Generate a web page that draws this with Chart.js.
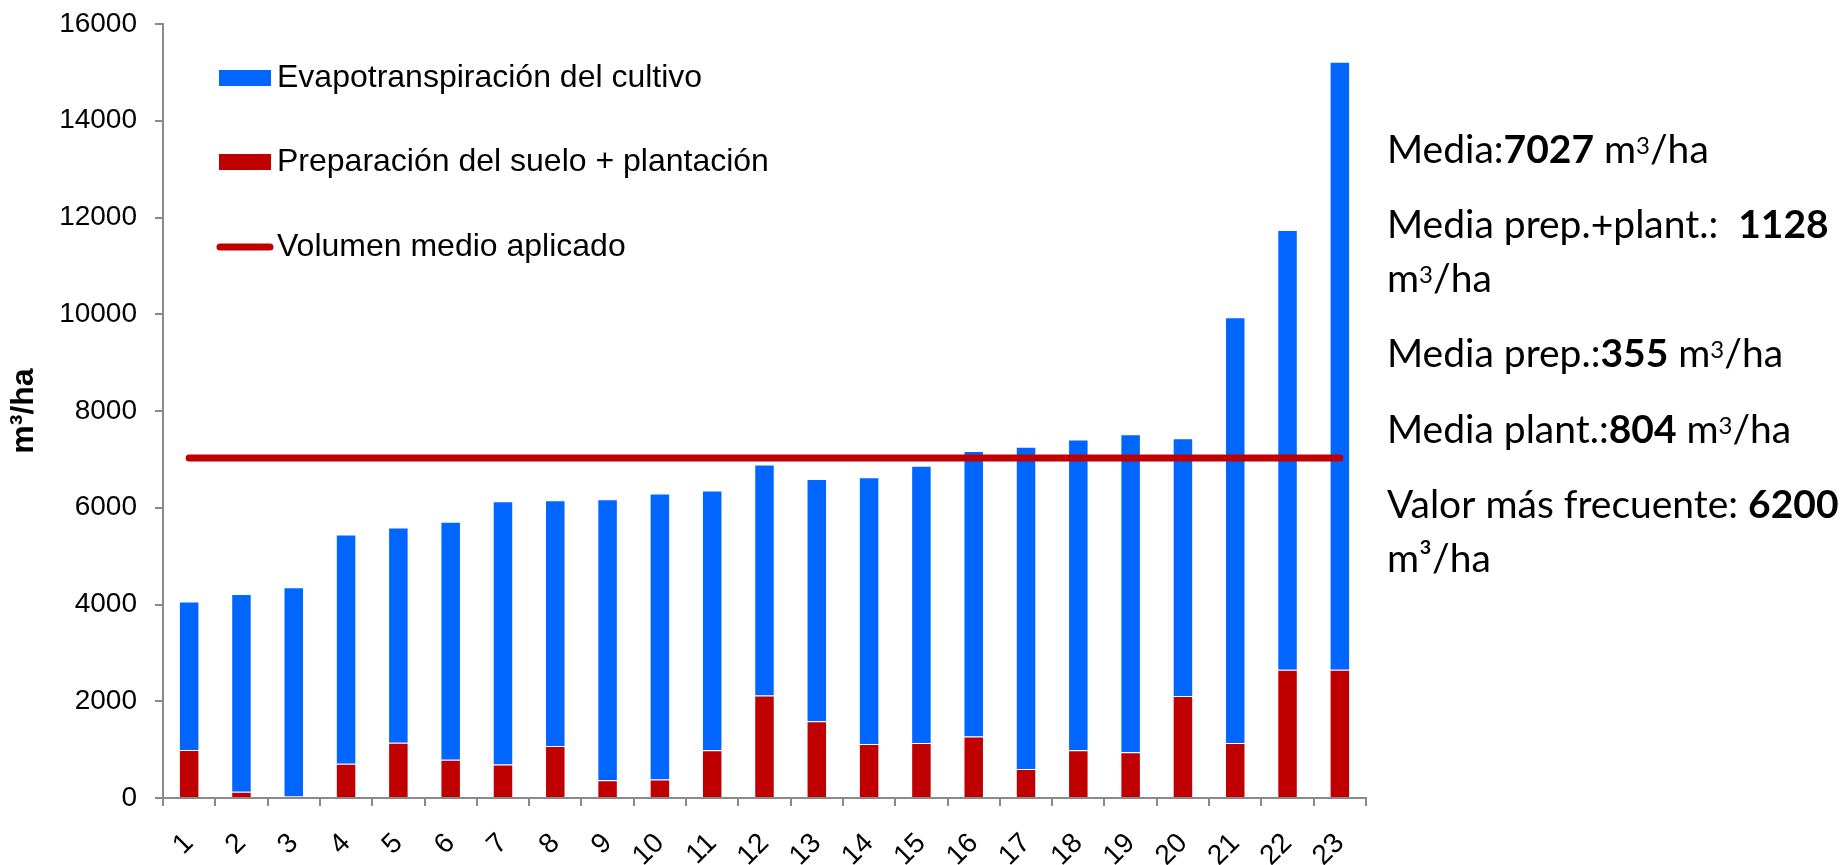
<!DOCTYPE html>
<html lang="es">
<head>
<meta charset="utf-8">
<title>Volumen de riego aplicado por parcela</title>
<script src="https://cdn.jsdelivr.net/npm/chart.js@4/dist/chart.umd.min.js"></script>
<style>
  html, body { margin: 0; padding: 0; background: #ffffff; }
  #wrap { position: relative; width: 1843px; height: 865px; overflow: hidden; }
  canvas { display: block; }
</style>
</head>
<body>
<div id="wrap">
  <canvas id="grafico" width="1843" height="865"></canvas>
</div>
<script>
// Parcelas ordenadas por volumen total aplicado (m³/ha)
const parcelas = ['1','2','3','4','5','6','7','8','9','10','11','12',
                  '13','14','15','16','17','18','19','20','21','22','23'];

// Riego de preparación del suelo + plantación (m³/ha)
const preparacionPlantacion = [990, 130, 35, 710, 1140, 790, 690, 1075, 365, 385, 985, 2120,
                               1585, 1115, 1135, 1270, 600, 985, 945, 2110, 1135, 2650, 2650];

// Evapotranspiración del cultivo (m³/ha)
const evapotranspiracion = [3070, 4085, 4320, 4735, 4450, 4920, 5445, 5080, 5810, 5910, 5370, 4775,
                            5010, 5515, 5735, 5905, 6660, 6425, 6575, 5325, 8805, 9090, 12570];

// Valores resumen (m³/ha)
const mediaTotal = 7027;
const mediaPrepPlant = 1128;
const mediaPrep = 355;
const mediaPlant = 804;
const valorFrecuente = 6200;

// Eje de valores
const yMin = 0;
const yMax = 16000;
const yPaso = 2000;

const FUENTE = '"Liberation Sans", Arial, sans-serif';
const FUENTE_NOTAS = 'Lato, "Open Sans", sans-serif';
const GRIS_EJE = '#8a8a8a';
const AZUL = '#0066FF';
const ROJO = '#C00000';

// Leyenda vertical dentro del área de trazado
const leyenda = {
  id: 'leyenda',
  afterDraw(chart) {
    const ctx = chart.ctx;
    const ds = chart.data.datasets;
    const filas = [
      { d: ds[1], y: 78, tipo: 'caja' },
      { d: ds[0], y: 162, tipo: 'caja' },
      { d: ds[2], y: 247, tipo: 'linea' }
    ];
    ctx.save();
    ctx.font = '32px ' + FUENTE;
    ctx.textBaseline = 'middle';
    ctx.textAlign = 'left';
    for (const f of filas) {
      if (f.tipo === 'caja') {
        ctx.fillStyle = f.d.backgroundColor;
        ctx.fillRect(219, f.y - 8, 52, 16);
      } else {
        ctx.strokeStyle = f.d.borderColor;
        ctx.lineWidth = 7;
        ctx.lineCap = 'round';
        ctx.beginPath();
        ctx.moveTo(220, f.y);
        ctx.lineTo(270, f.y);
        ctx.stroke();
      }
      ctx.fillStyle = '#000';
      ctx.fillText(f.d.label, 277, f.y);
    }
    ctx.restore();
  }
};

// Bloque de notas con los valores medios, a la derecha del gráfico
const notas = {
  id: 'notas',
  afterDraw(chart) {
    const ctx = chart.ctx;
    const T = 39;
    const estilos = {
      n: { font: T + 'px ' + FUENTE_NOTAS, dy: 0 },
      b: { font: 'bold ' + T + 'px ' + FUENTE_NOTAS, dy: 0 },
      s: { font: Math.round(T * 0.62) + 'px ' + FUENTE_NOTAS, dy: -9 }
    };
    const lineas = [
      { y: 163, partes: [['Media:', 'n'], [String(mediaTotal), 'b'], [' m', 'n'], ['3', 's'], ['/ha', 'n']] },
      { y: 238, partes: [['Media prep.+plant.:  ', 'n'], [String(mediaPrepPlant), 'b']] },
      { y: 292, partes: [['m', 'n'], ['3', 's'], ['/ha', 'n']] },
      { y: 367, partes: [['Media prep.:', 'n'], [String(mediaPrep), 'b'], [' m', 'n'], ['3', 's'], ['/ha', 'n']] },
      { y: 443, partes: [['Media plant.:', 'n'], [String(mediaPlant), 'b'], [' m', 'n'], ['3', 's'], ['/ha', 'n']] },
      { y: 518, partes: [['Valor más frecuente: ', 'n'], [String(valorFrecuente), 'b']] },
      { y: 572, partes: [['m³/ha', 'n']] }
    ];
    ctx.save();
    ctx.fillStyle = '#000';
    ctx.textBaseline = 'alphabetic';
    ctx.textAlign = 'left';
    for (const l of lineas) {
      let x = 1387;
      for (const [txt, e] of l.partes) {
        ctx.font = estilos[e].font;
        ctx.fillText(txt, x, l.y + estilos[e].dy);
        x += ctx.measureText(txt).width;
      }
    }
    ctx.restore();
  }
};

new Chart(document.getElementById('grafico'), {
  type: 'bar',
  data: {
    labels: parcelas,
    datasets: [
      {
        label: 'Preparación del suelo + plantación',
        data: preparacionPlantacion,
        backgroundColor: ROJO,
        borderColor: 'rgba(255,255,255,0.4)',
        borderWidth: 1,
        stack: 'total',
        order: 1
      },
      {
        label: 'Evapotranspiración del cultivo',
        data: evapotranspiracion,
        backgroundColor: AZUL,
        borderColor: 'rgba(255,255,255,0.4)',
        borderWidth: 1,
        stack: 'total',
        order: 2
      },
      {
        type: 'line',
        label: 'Volumen medio aplicado',
        data: parcelas.map(() => mediaTotal),
        borderColor: ROJO,
        backgroundColor: ROJO,
        borderWidth: 7,
        borderCapStyle: 'round',
        pointRadius: 0,
        fill: false,
        stack: 'media',
        order: 0
      }
    ]
  },
  options: {
    responsive: false,
    animation: false,
    devicePixelRatio: 1,
    layout: { padding: { top: 24, right: 477, left: 0, bottom: 0 } },
    datasets: { bar: { categoryPercentage: 1, barPercentage: 0.392 } },
    plugins: {
      legend: { display: false },
      tooltip: { enabled: false },
      title: { display: false }
    },
    scales: {
      x: {
        stacked: true,
        grid: { display: true, drawOnChartArea: false, drawTicks: true, tickLength: 8,
                color: GRIS_EJE, lineWidth: 2, offset: true },
        border: { display: true, color: GRIS_EJE, width: 2 },
        ticks: { font: { family: FUENTE, size: 28 }, color: '#000',
                 maxRotation: 45, minRotation: 45, autoSkip: false, padding: 21 },
        afterFit(s) { s.height = 67; s.paddingLeft = 0; s.paddingRight = 0; }
      },
      y: {
        stacked: true,
        min: yMin,
        max: yMax,
        grid: { display: true, drawOnChartArea: false, drawTicks: true, tickLength: 8,
                color: GRIS_EJE, lineWidth: 2 },
        border: { display: true, color: GRIS_EJE, width: 2 },
        ticks: { stepSize: yPaso, font: { family: FUENTE, size: 28 }, color: '#000', padding: 18,
                 callback: (v) => String(v) },
        title: { display: true, text: 'm³/ha', color: '#000',
                 font: { family: FUENTE, size: 32, weight: 'bold' }, padding: { top: 5, bottom: 0 } },
        afterFit(s) { s.width = 163; s.paddingTop = 0; s.paddingBottom = 0; }
      }
    }
  },
  plugins: [leyenda, notas]
});
</script>
</body>
</html>
